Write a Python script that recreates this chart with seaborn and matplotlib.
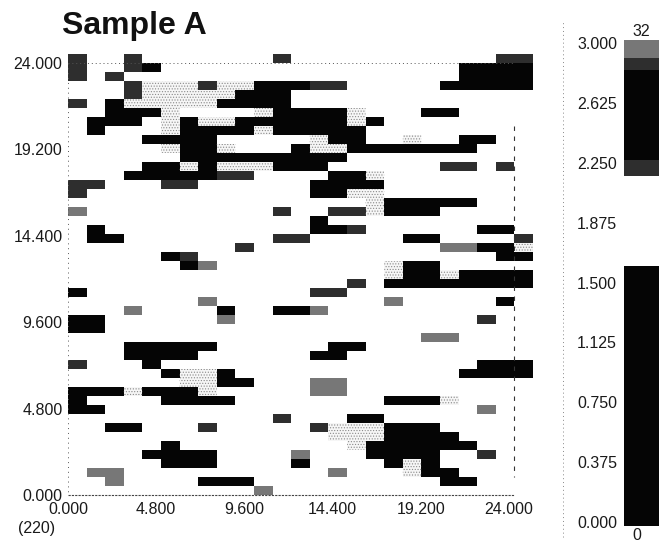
import numpy as np
import pandas as pd
import seaborn as sns
import matplotlib
matplotlib.use("Agg")
import matplotlib.pyplot as plt
from matplotlib.colors import ListedColormap, BoundaryNorm

# Map cells: (row from top, first column, last column)
n_rows, n_cols = 49, 25
black_runs = [
    (1,4,4),(1,21,24),(2,21,24),(3,10,12),(3,20,24),(4,9,11),(5,2,2),(5,8,11),
    (6,2,4),(6,11,14),(6,19,20),(7,1,3),(7,6,6),(7,9,14),(7,16,16),(8,1,1),(8,6,9),(8,11,15),
    (9,4,7),(9,14,15),(9,21,22),(10,6,7),(10,12,12),(10,15,21),(11,6,14),(12,4,5),(12,7,7),(12,11,13),
    (13,3,7),(13,14,15),(14,13,16),(15,13,14),(16,17,21),(17,17,19),(18,13,13),(19,1,1),(19,13,14),(19,22,23),
    (20,1,2),(20,18,19),(21,22,23),(22,5,5),(22,23,24),(23,6,6),(23,18,19),(24,18,19),(24,21,24),(25,17,24),
    (26,0,0),(27,23,23),(28,8,8),(28,11,12),(29,0,1),(30,0,1),(32,3,7),(32,14,15),(33,3,6),(33,13,14),
    (34,4,4),(34,22,24),(35,5,5),(35,8,8),(35,21,24),(36,8,9),(37,0,2),(37,4,6),(38,0,0),(38,5,8),(38,17,19),
    (39,0,1),(40,15,16),(41,2,3),(41,17,19),(42,17,20),(43,5,5),(43,16,21),(44,4,7),(44,16,19),
    (45,5,7),(45,12,12),(45,17,17),(45,19,19),(46,19,20),(47,7,9),(47,20,21),
]
dark_runs = [
    (0,0,0),(0,3,3),(0,11,11),(0,23,24),(1,0,0),(1,3,3),(2,0,0),(2,2,2),(3,3,3),(3,7,7),(3,13,14),(4,3,3),(5,0,0),
    (12,20,21),(12,23,23),(13,8,9),(14,0,1),(14,5,6),(15,0,0),(17,11,11),(17,14,15),(19,15,15),(20,11,12),(20,24,24),
    (21,9,9),(22,6,6),(25,15,15),(26,13,14),(29,22,22),(34,0,0),(40,11,11),(41,7,7),(41,13,13),(44,22,22),
]
gray_runs = [
    (17,0,0),(21,20,21),(23,7,7),(27,7,7),(27,17,17),(28,3,3),(28,13,13),(29,8,8),(36,13,14),(37,13,14),
    (39,22,22),(31,19,20),(44,12,12),(46,1,2),(46,14,14),(47,2,2),(48,10,10),
]
stipple_runs = [
    (3,4,9),(4,4,8),(5,3,7),(6,5,5),(6,10,10),(6,15,15),(7,5,5),(7,7,8),(7,15,15),(8,5,5),(8,10,10),(9,13,13),(9,18,18),
    (10,5,5),(10,8,8),(10,13,14),(12,6,6),(12,8,10),(13,16,16),(15,15,16),(16,16,16),(17,16,16),(21,24,24),(23,17,17),
    (24,17,17),(24,20,20),(35,6,7),(36,6,7),(37,3,3),(37,7,7),(38,20,20),(41,14,16),(42,14,16),(43,15,15),(45,18,18),(46,18,18),
]
level_runs = [(stipple_runs,1),(gray_runs,2),(dark_runs,3),(black_runs,4)]

x_ticks = [0.0, 4.8, 9.6, 14.4, 19.2, 24.0]
y_ticks = [0.0, 4.8, 9.6, 14.4, 19.2, 24.0]
y_top = 24.5
row_step = 0.5

bar_edges = [-0.025, 1.603, 2.167, 2.267, 2.83, 2.91, 3.02]
bar_levels = [4, 0, 3, 4, 3, 2]
bar_ticks = [0.0, 0.375, 0.75, 1.125, 1.5, 1.875, 2.25, 2.625, 3.0]

sns.set_theme(style="white")
plt.rcParams['font.family'] = ['Liberation Sans', 'DejaVu Sans']
plt.rcParams['hatch.linewidth'] = 0.5
TXT = "#1a1a1a"
colors = ["#ffffff", "#f6f6f6", "#777777", "#2e2e2e", "#050505"]
cmap = ListedColormap(colors)
norm = BoundaryNorm([-0.5, 0.5, 1.5, 2.5, 3.25, 4.5], cmap.N)

grid = np.zeros((n_rows, n_cols))
for runs, lev in level_runs:
    for r, a, b in runs:
        grid[r, a:b + 1] = lev
frame = pd.DataFrame(grid)

W, H = 666, 542
fig = plt.figure(figsize=(W / 100, H / 100), dpi=100, facecolor="white")
ax = fig.add_axes([68 / W, 1 - 495 / H, 465 / W, 441 / H])
sns.heatmap(frame, ax=ax, cmap=cmap, norm=norm, cbar=False, xticklabels=False, yticklabels=False)

# speckled cells: dotted texture over the pale level
speck = np.ma.masked_where(grid != 1, grid)
ax.pcolor(np.arange(n_cols + 1), np.arange(n_rows + 1), speck, facecolor="none",
          edgecolor="#8a8a8a", linewidth=0, hatch="......")
ax.set_xlim(0, n_cols)
ax.set_ylim(n_rows, 0)

label_shrink = 0.988   # printed labels run slightly tighter than the scale
ax.set_xticks([v * label_shrink for v in x_ticks])
ax.set_xticklabels([f"{v:.3f}" for v in x_ticks], fontsize=11.5, color=TXT)
ax.set_yticks([(y_top - v) / row_step for v in y_ticks])
ax.set_yticklabels([f"{v:.3f}" for v in y_ticks], fontsize=11.5, color=TXT, rotation=0)
ax.tick_params(axis="x", length=0, pad=5)
ax.tick_params(axis="y", length=0, pad=4)
for s in ax.spines.values():
    s.set_visible(False)

# dotted frame of the scale
ax.plot([0, 24], [n_rows, n_rows], color="#444444", lw=0.8, ls=(0, (2, 1)), clip_on=False)
ax.plot([0, 24], [1, 1], color="#555555", lw=0.7, ls=(0, (1, 3)))
ax.plot([0, 0], [1, n_rows], color="#555555", lw=0.7, ls=(0, (1, 4)), clip_on=False)
ax.plot([24, 24], [8, 47], color="#333333", lw=0.8, ls=(0, (4, 5)))

fig.text(62 / W, 1 - 34 / H, "Sample A", fontsize=23, fontweight="bold", color="#111111")
fig.text(18 / W, 1 - 533 / H, "(220)", fontsize=11.5, color=TXT)

# colour scale
cax = fig.add_axes([624 / W, 1 - 526 / H, 35 / W, 486 / H])
cax.pcolormesh([0, 1], bar_edges, np.array(bar_levels).reshape(-1, 1), cmap=cmap, norm=norm)
cax.set_ylim(bar_edges[0], bar_edges[-1])
cax.set_xlim(0, 1)
cax.set_xticks([])
cax.set_yticks(bar_ticks)
cax.set_yticklabels([f"{v:.3f}" for v in bar_ticks], fontsize=11.5, color=TXT)
cax.tick_params(axis="y", length=2, width=0.7, pad=3, color="#333333")
for s in cax.spines.values():
    s.set_visible(False)
fig.text(641 / W, 1 - 36 / H, "32", fontsize=11.5, color=TXT, ha="center")
fig.text(637 / W, 1 - 540 / H, "0", fontsize=11.5, color=TXT, ha="center")

# faint scan line left of the scale
fig.add_artist(plt.Line2D([563 / W, 563 / W], [0.01, 0.96], color="#888888", lw=0.7, ls=(0, (1, 3))))

fig.savefig("out.png", dpi=100, facecolor="white")
